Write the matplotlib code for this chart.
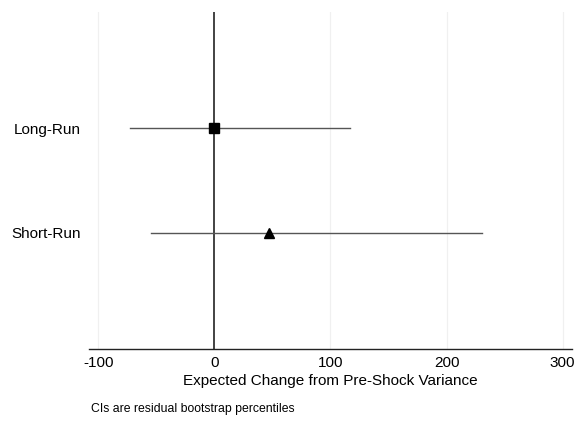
import matplotlib.pyplot as plt

plt.rcParams['font.family'] = ['Liberation Sans', 'DejaVu Sans']

labels = ['Short-Run', 'Long-Run']
estimates = [47.4, 0.0]
ci_low = [-54.3, -72.4]
ci_high = [230.2, 116.4]
markers = ['^', 's']
xticks = [-100, 0, 100, 200, 300]

fig = plt.figure(figsize=(5.74, 4.21), dpi=100)
ax = fig.add_axes([0.155, 0.171, 0.8415, 0.8005])

# faint vertical grid, with a solid reference line at zero
for gx in [-100, 100, 200, 300]:
    ax.axvline(gx, color='#f0f0f0', lw=0.9, zorder=0)
ax.axvline(0, color='#222222', lw=1.2, zorder=1)

for i, lab in enumerate(labels):
    ax.plot([ci_low[i], ci_high[i]], [i, i], color='#555555', lw=1.0, zorder=2)
    ax.plot(estimates[i], i, marker=markers[i], color='black', ms=7, zorder=3)

ax.set_xlim(-108, 308)
ax.set_ylim(-1.105, 2.105)
ax.set_yticks([0, 1])
ax.set_yticklabels(labels)
ax.set_xticks(xticks)
ax.set_xticklabels([str(t) for t in xticks])
ax.tick_params(axis='both', length=0, labelsize=11, colors='black')
ax.tick_params(axis='x', pad=5)
ax.tick_params(axis='y', pad=6)
for side in ['top', 'right', 'left']:
    ax.spines[side].set_visible(False)
ax.spines['bottom'].set_color('#222222')
ax.spines['bottom'].set_linewidth(1.0)

ax.set_xlabel('Expected Change from Pre-Shock Variance', fontsize=11, labelpad=3)
fig.text(91 / 574, 1 - 409 / 421, 'CIs are residual bootstrap percentiles',
         fontsize=8.8, va='center', ha='left')

fig.savefig('out.png', dpi=100)
